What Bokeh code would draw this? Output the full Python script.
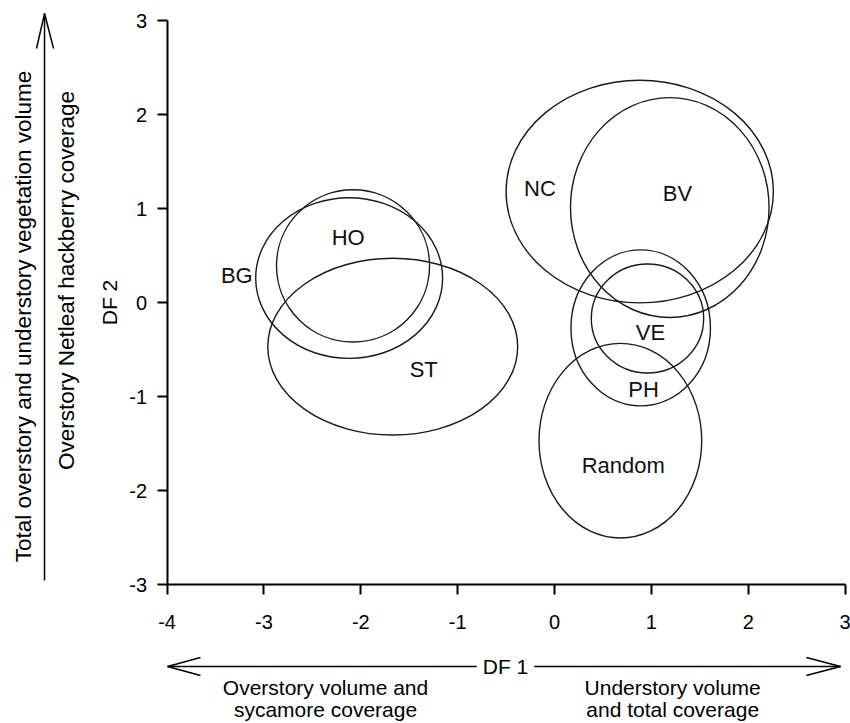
from bokeh.plotting import figure
from bokeh.models import Range1d, ColumnDataSource, Label, Arrow, FixedTicker, CustomJSTickFormatter
from bokeh.embed import file_html
from bokeh.resources import INLINE
from bokeh.core.properties import value
import math

# Discriminant-function group ellipses (DF 1 vs DF 2)
groups = ["HO", "BG", "ST", "NC", "BV", "PH", "VE", "Random"]
center_df1 = [-2.08, -2.12, -1.67, 0.88, 1.19, 0.89, 0.96, 0.68]
center_df2 = [0.39, 0.26, -0.47, 1.18, 1.01, -0.27, -0.17, -1.47]
width_df1 = [1.58, 1.93, 2.58, 2.76, 2.05, 1.44, 1.16, 1.68]
height_df2 = [1.62, 1.71, 1.88, 2.37, 2.34, 1.66, 1.16, 2.07]

# Group name positions
label_df1 = [-2.13, -3.28, -1.35, -0.15, 1.27, 0.92, 0.99, 0.71]
label_df2 = [0.69, 0.29, -0.71, 1.21, 1.16, -0.93, -0.32, -1.73]

x_ticks = [-4, -3, -2, -1, 0, 1, 2, 3]
y_ticks = [-3, -2, -1, 0, 1, 2, 3]

FONT = "Liberation Sans"

# The frame fills the whole canvas so the side annotations (arrows, captions)
# can live in data space; the axes sit at fixed locations and are bounded.
p = figure(width=850, height=723, output_backend="svg", toolbar_location=None,
           x_range=Range1d(-5.7196, 3.0560), y_range=Range1d(-4.4787, 3.2128),
           min_border=0)
p.outline_line_color = None
p.grid.visible = False
p.background_fill_color = "white"
p.border_fill_color = "white"

fmt = CustomJSTickFormatter(code="return tick.toFixed(0)")
for axes in (p.xaxis, p.yaxis):
    axes.axis_line_color = "black"
    axes.axis_line_width = 2
    axes.major_tick_line_color = "black"
    axes.major_tick_line_width = 2
    axes.major_tick_out = 10
    axes.major_tick_in = 0
    axes.minor_tick_line_color = None
    axes.major_label_text_font = FONT
    axes.major_label_text_font_size = "20px"
    axes.major_label_text_color = "black"
    axes.formatter = fmt

p.xaxis.ticker = FixedTicker(ticks=x_ticks)
p.yaxis.ticker = FixedTicker(ticks=y_ticks)
p.xaxis.bounds = (x_ticks[0], x_ticks[-1])
p.yaxis.bounds = (y_ticks[0], y_ticks[-1])
p.xaxis.fixed_location = y_ticks[0]
p.yaxis.fixed_location = x_ticks[0]
p.xaxis.major_label_standoff = 20
p.yaxis.major_label_standoff = 10
p.yaxis.axis_label = "DF 2"
p.yaxis.axis_label_text_font = FONT
p.yaxis.axis_label_text_font_size = "21px"
p.yaxis.axis_label_text_font_style = "normal"
p.yaxis.axis_label_text_color = "black"
p.yaxis.axis_label_standoff = 6

src = ColumnDataSource(dict(x=center_df1, y=center_df2, w=width_df1, h=height_df2,
                            lx=label_df1, ly=label_df2, name=groups))
p.ellipse(x="x", y="y", width="w", height="h", source=src,
          fill_color=None, line_color="#1a1a1a", line_width=1.4)
p.text(x="lx", y="ly", text="name", source=src, text_align="center",
       text_baseline="middle", text_font=value(FONT), text_font_size="22px",
       text_color="#111111")

# Horizontal DF 1 arrow below the x axis
ya = -3.872
p.add_layout(Arrow(x_start=-3.995, y_start=ya, x_end=2.953, y_end=ya, end=None,
                   line_color="black", line_width=1.5))
for xt, xw in ((-3.995, -3.655), (2.953, 2.60)):
    for yw in (-3.777, -3.968):
        p.add_layout(Arrow(x_start=xt, y_start=ya, x_end=xw, y_end=yw, end=None,
                           line_color="black", line_width=1.5))
p.add_layout(Label(x=-0.506, y=ya, text="DF 1", text_align="center",
                   text_baseline="middle", text_font=FONT, text_font_size="21px",
                   text_color="black", background_fill_color="white", padding=6))

for x, y, t in ((-2.364, -4.096, "Overstory volume and"),
                (-2.364, -4.33, "sycamore coverage"),
                (1.22, -4.096, "Understory volume"),
                (1.22, -4.33, "and total coverage")):
    p.add_layout(Label(x=x, y=y, text=t, text_align="center", text_baseline="middle",
                       text_font=FONT, text_font_size="21px", text_color="black"))

# Vertical arrow with its two descriptions, left of the y axis
xa = -5.265
p.add_layout(Arrow(x_start=xa, y_start=-2.957, x_end=xa, y_end=3.074, end=None,
                   line_color="black", line_width=1.5))
for xw in (-5.348, -5.172):
    p.add_layout(Arrow(x_start=xa, y_start=3.074, x_end=xw, y_end=2.702, end=None,
                       line_color="black", line_width=1.5))
p.add_layout(Label(x=-5.48, y=-0.149, text="Total overstory and understory vegetation volume",
                   angle=math.pi / 2, text_align="center", text_baseline="middle",
                   text_font=FONT, text_font_size="22.5px", text_color="black"))
p.add_layout(Label(x=-5.04, y=0.234, text="Overstory Netleaf hackberry coverage",
                   angle=math.pi / 2, text_align="center", text_baseline="middle",
                   text_font=FONT, text_font_size="22.5px", text_color="black"))

open("out.html", "w").write(file_html(p, INLINE))
